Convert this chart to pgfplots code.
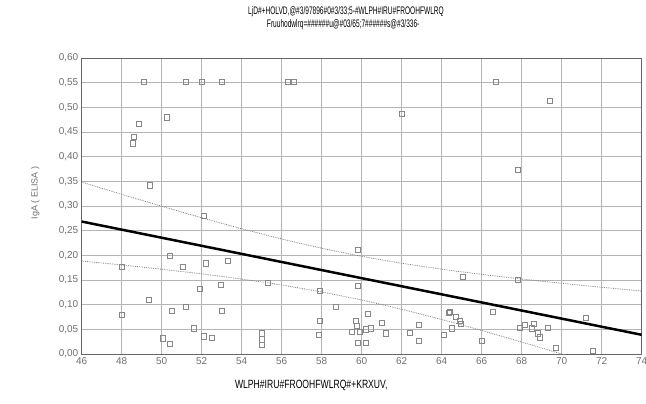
\documentclass[border=0pt]{standalone}
\usepackage{fontspec}
\setmainfont{Liberation Sans}
\usepackage{pgfplots}
\pgfplotsset{compat=1.18}
\definecolor{gridgray}{RGB}{180,180,180}
\definecolor{ptgray}{RGB}{135,135,135}
\definecolor{txtgray}{RGB}{110,110,110}
\newcommand{\narrow}[2][0.6]{\scalebox{#1}[1]{#2}}

\begin{document}
\begin{tikzpicture}
\useasboundingbox (-81.7bp,-50bp) rectangle (564.3bp,354bp);
\begin{axis}[
  at={(0,0)}, anchor=south west,
  scale only axis, width=560bp, height=296bp,
  xmin=46, xmax=74, ymin=0, ymax=0.6,
  xtick={46,48,...,74}, ytick={0,0.05,...,0.61},
  grid=major, major grid style={gridgray, line width=0.6pt},
  axis line style={gray!80!black, line width=0.8pt},
  tick style={draw=none},
  /pgf/number format/assume math mode=true,
  yticklabel style={/pgf/number format/.cd, fixed, fixed zerofill, precision=2, use comma},
  xticklabel style={/pgf/number format/.cd, fixed, precision=0},
  tick label style={font=\fontsize{10}{11}\selectfont, text=txtgray},
  clip mode=individual,
]
% observations
\addplot[only marks, mark=square, mark size=2.6bp, draw=ptgray, mark options={line width=0.5pt}] coordinates {
(49.1,0.552)(51.2,0.552)(52.0,0.552)(53.0,0.552)(56.3,0.552)(56.6,0.552)(66.7,0.552)
(50.25,0.48)(48.85,0.467)(48.6,0.44)(48.55,0.427)(62.0,0.487)(69.4,0.513)(67.8,0.373)
(49.4,0.342)(52.1,0.281)
(48.0,0.177)(50.4,0.199)(51.05,0.177)(52.2,0.184)(53.3,0.189)(51.9,0.133)(52.95,0.14)
(49.35,0.11)(51.2,0.096)(50.5,0.087)(53.0,0.087)(48.0,0.079)(51.6,0.052)(52.1,0.036)
(52.5,0.033)(50.05,0.032)(50.4,0.02)
(55.0,0.042)(55.0,0.030)(55.0,0.018)(55.3,0.145)
(59.8,0.212)(59.8,0.138)(57.9,0.128)(58.7,0.096)(57.9,0.068)(57.85,0.039)
(60.3,0.081)(59.7,0.068)(59.75,0.057)(60.2,0.05)(60.45,0.052)(59.5,0.045)(59.9,0.045)
(61.0,0.064)(61.2,0.042)(59.8,0.022)(60.2,0.022)(62.85,0.059)(62.4,0.043)(62.85,0.027)
(64.1,0.039)(64.35,0.083)
(65.05,0.157)(67.8,0.15)(66.55,0.086)(71.2,0.074)(64.4,0.086)(64.7,0.076)(64.9,0.068)
(64.95,0.061)(64.5,0.052)(66.0,0.027)(67.9,0.054)(68.15,0.059)(68.5,0.052)(68.6,0.061)
(68.8,0.042)(68.9,0.034)(69.3,0.054)(69.7,0.012)(71.55,0.007)
};
% 95% confidence band
\addplot[gray, densely dotted, line width=0.8pt, smooth] coordinates {
(46,0.3485)(48,0.3237)(50,0.2996)(52,0.2762)(54,0.2539)(56,0.2332)(58,0.2145)
(60,0.1981)(62,0.1840)(64,0.1719)(66,0.1614)(68,0.1520)(70,0.1433)(72,0.1353)(74,0.1277)
};
\addplot[gray, densely dotted, line width=0.8pt, smooth] coordinates {
(46,0.1885)(48,0.1805)(50,0.1718)(52,0.1624)(54,0.1519)(56,0.1398)(58,0.1257)
(60,0.1093)(62,0.0906)(64,0.0699)(66,0.0476)(68,0.0242)(70,0.0001)(72,-0.0247)(74,-0.0499)
};
% regression line
\addplot[black, line width=2.5pt] coordinates {(46,0.2685)(74,0.0389)};

\node[font=\fontsize{11}{12}\selectfont] at (rel axis cs:0.472,1.155) {\narrow{LjD\#+HOLVD,@\#3/97896\#0\#3/33;5-\#WLPH\#IRU\#FROOHFWLRQ}};
\node[font=\fontsize{11}{12}\selectfont] at (rel axis cs:0.467,1.111) {\narrow{Fruuhodwlrq=\#\#\#\#\#\#u@\#03/65;7\#\#\#\#\#\#s@\#3/336-}};
\node[font=\fontsize{12}{13}\selectfont] at (rel axis cs:0.41,-0.105) {\narrow[0.72]{WLPH\#IRU\#FROOHFWLRQ\#+KRXUV,}};
\node[font=\fontsize{9}{10}\selectfont, text=txtgray, rotate=90] at (rel axis cs:-0.083,0.544) {IgA ( ELISA )};
\end{axis}
\end{tikzpicture}
\end{document}
